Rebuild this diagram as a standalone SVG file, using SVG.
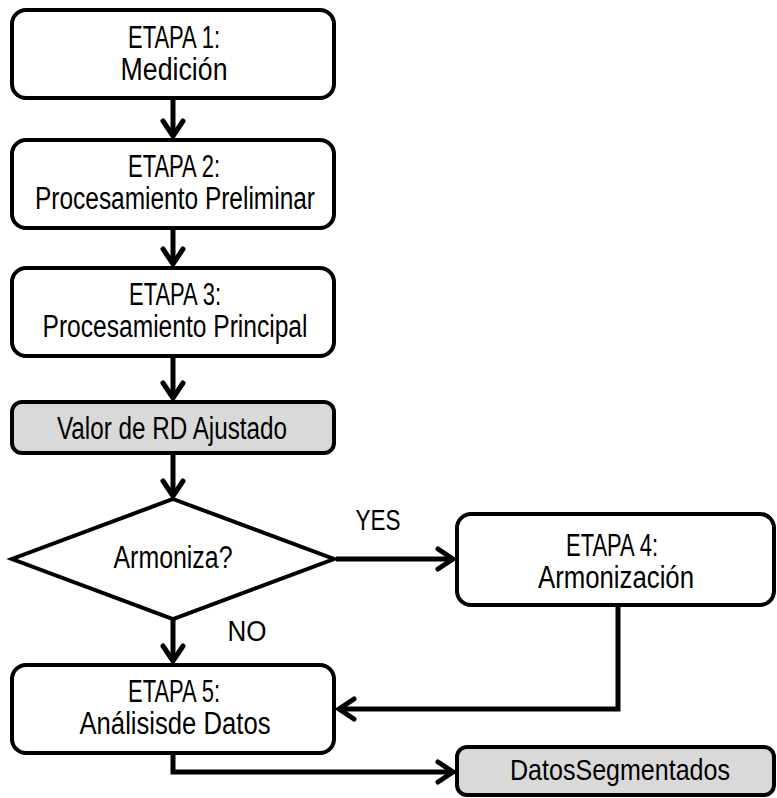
<svg xmlns="http://www.w3.org/2000/svg" width="777" height="798" viewBox="0 0 777 798">
<style>
.box{fill:#ffffff;stroke:#000;stroke-width:4}
.grey{fill:#d9d9d9;stroke:#000;stroke-width:4}
.t{font-family:"Liberation Sans",Arial,sans-serif;font-size:31px;fill:#000;text-anchor:middle}
.s{font-size:29px}
.c{fill:none;stroke:#000;stroke-width:5;stroke-linejoin:miter}
</style>
<defs>
<marker id="arr" markerUnits="userSpaceOnUse" viewBox="-20 -14 24 28" refX="0" refY="0" markerWidth="24" markerHeight="28" orient="auto" overflow="visible">
<path d="M-15,-10 L0,0 L-15,10" fill="none" stroke="#000" stroke-width="5" stroke-linecap="round" stroke-linejoin="miter"/>
</marker>
</defs>
<g id="connectors">
<path class="c" d="M173,100 L173,136" marker-end="url(#arr)"/>
<path class="c" d="M173,230 L173,264" marker-end="url(#arr)"/>
<path class="c" d="M173,357 L173,398" marker-end="url(#arr)"/>
<path class="c" d="M173,455 L173,496" marker-end="url(#arr)"/>
<path class="c" d="M336,559 L453,559" marker-end="url(#arr)"/>
<path class="c" d="M173,620 L173,661" marker-end="url(#arr)"/>
<path class="c" d="M618,607 L618,709 L339,709" marker-end="url(#arr)"/>
<path class="c" d="M173,755 L173,772 L453,772" marker-end="url(#arr)"/>
</g>
<g id="etapa1">
<rect class="box" x="12" y="10" width="322" height="88" rx="14"/>
<text class="t"><tspan x="174" y="48" textLength="92" lengthAdjust="spacingAndGlyphs">ETAPA 1:</tspan><tspan x="174" y="80" textLength="107" lengthAdjust="spacingAndGlyphs">Medición</tspan></text>
</g>
<g id="etapa2">
<rect class="box" x="12" y="140" width="322" height="88" rx="14"/>
<text class="t"><tspan x="174" y="177" textLength="92" lengthAdjust="spacingAndGlyphs">ETAPA 2:</tspan><tspan x="175" y="209" textLength="280" lengthAdjust="spacingAndGlyphs">Procesamiento Preliminar</tspan></text>
</g>
<g id="etapa3">
<rect class="box" x="12" y="268" width="322" height="88" rx="14"/>
<text class="t"><tspan x="175" y="305" textLength="92" lengthAdjust="spacingAndGlyphs">ETAPA 3:</tspan><tspan x="175" y="337" textLength="265" lengthAdjust="spacingAndGlyphs">Procesamiento Principal</tspan></text>
</g>
<g id="valor-rd">
<rect class="grey" x="12" y="402" width="322" height="51" rx="10"/>
<text class="t" x="172" y="439" textLength="230" lengthAdjust="spacingAndGlyphs">Valor de RD Ajustado</text>
</g>
<g id="armoniza">
<polygon points="173,499 334,559 173,619 12,559" fill="#fff" stroke="#000" stroke-width="4" stroke-linejoin="miter"/>
<text class="t" x="173" y="568" textLength="119" lengthAdjust="spacingAndGlyphs">Armoniza?</text>
</g>
<g id="yes-label">
<text class="t s" x="378" y="530" textLength="45" lengthAdjust="spacingAndGlyphs">YES</text>
</g>
<g id="no-label">
<text class="t s" x="247" y="641" textLength="39" lengthAdjust="spacingAndGlyphs">NO</text>
</g>
<g id="etapa4">
<rect class="box" x="457" y="514" width="317" height="91" rx="14"/>
<text class="t"><tspan x="612" y="556" textLength="92" lengthAdjust="spacingAndGlyphs">ETAPA 4:</tspan><tspan x="616" y="588" textLength="156" lengthAdjust="spacingAndGlyphs">Armonización</tspan></text>
</g>
<g id="etapa5">
<rect class="box" x="12" y="665" width="322" height="88" rx="14"/>
<text class="t"><tspan x="174" y="702" textLength="92" lengthAdjust="spacingAndGlyphs">ETAPA 5:</tspan><tspan x="175" y="734" textLength="191" lengthAdjust="spacingAndGlyphs">Análisisde Datos</tspan></text>
</g>
<g id="datos-segmentados">
<rect class="grey" x="457" y="747" width="317" height="48" rx="10"/>
<text class="t s" x="620" y="780" textLength="220" lengthAdjust="spacingAndGlyphs">DatosSegmentados</text>
</g>
</svg>
